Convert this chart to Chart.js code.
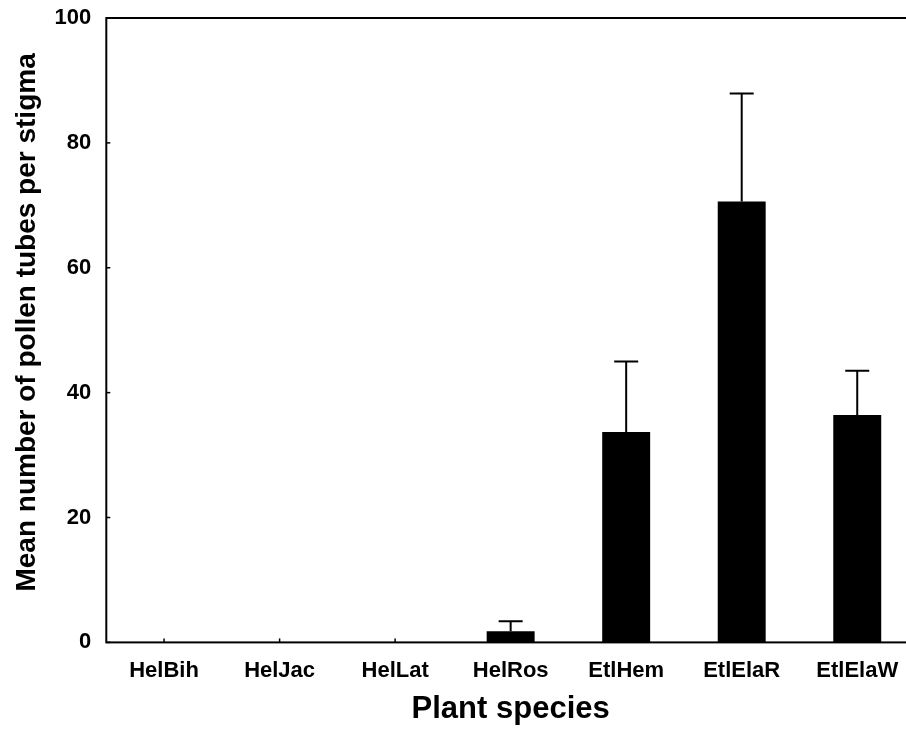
<!DOCTYPE html>
<html>
<head>
<meta charset="utf-8">
<script src="https://cdn.jsdelivr.net/npm/chart.js@4/dist/chart.umd.min.js"></script>
<style>
  html, body { margin: 0; padding: 0; background: #fff; overflow: hidden; }
  #wrap { width: 916px; height: 730px; }
</style>
</head>
<body>
<div id="wrap"><canvas id="pollen"></canvas></div>
<script>
var species = ['HelBih', 'HelJac', 'HelLat', 'HelRos', 'EtlHem', 'EtlElaR', 'EtlElaW'];
var meanTubes = [0, 0, 0, 1.8, 33.7, 70.6, 36.4];
var seTubes = [0, 0, 0, 1.6, 11.3, 17.3, 7.1];
var yTicks = [0, 20, 40, 60, 80, 100];

var FONT = "'Liberation Sans', Arial, sans-serif";

// upper error bars, inward ticks and the frame around the plot
var extras = {
  id: 'extras',
  afterDatasetsDraw: function(chart) {
    var ctx = chart.ctx;
    var x = chart.scales.x, y = chart.scales.y;
    var area = chart.chartArea;
    ctx.save();
    ctx.strokeStyle = '#000';
    ctx.lineWidth = 2;
    for (var i = 0; i < species.length; i++) {
      if (!seTubes[i]) continue;
      var px = x.getPixelForValue(i);
      var top = y.getPixelForValue(meanTubes[i] + seTubes[i]);
      ctx.beginPath();
      ctx.moveTo(px, y.getPixelForValue(meanTubes[i]));
      ctx.lineTo(px, top);
      ctx.moveTo(px - 12, top);
      ctx.lineTo(px + 12, top);
      ctx.stroke();
    }
    ctx.lineWidth = 1.5;
    yTicks.forEach(function(v) {
      var py = y.getPixelForValue(v);
      ctx.beginPath();
      ctx.moveTo(area.left, py);
      ctx.lineTo(area.left + 4, py);
      ctx.stroke();
    });
    species.forEach(function(s, i) {
      var px = x.getPixelForValue(i);
      ctx.beginPath();
      ctx.moveTo(px, area.bottom);
      ctx.lineTo(px, area.bottom - 4);
      ctx.stroke();
    });
    ctx.lineWidth = 2;
    ctx.strokeRect(area.left, area.top, area.right - area.left, area.bottom - area.top);
    ctx.restore();
  }
};

new Chart(document.getElementById('pollen'), {
  type: 'bar',
  data: {
    labels: species,
    datasets: [{
      data: meanTubes,
      backgroundColor: '#000',
      borderWidth: 0,
      categoryPercentage: 1,
      barPercentage: 0.415
    }]
  },
  options: {
    responsive: true,
    maintainAspectRatio: false,
    animation: false,
    layout: { padding: { top: 18, left: 6, right: 1, bottom: 2 } },
    plugins: {
      legend: { display: false },
      tooltip: { enabled: false }
    },
    scales: {
      x: {
        grid: { display: false, drawTicks: false },
        border: { display: false },
        ticks: { color: '#000', padding: 15, font: { family: FONT, size: 22, weight: 'bold' } },
        title: {
          display: true,
          text: 'Plant species',
          color: '#000',
          padding: { top: -8, bottom: 0 },
          font: { family: FONT, size: 31, weight: 'bold' }
        }
      },
      y: {
        min: 0,
        max: 100,
        afterBuildTicks: function(axis) {
          axis.ticks = yTicks.map(function(v) { return { value: v }; });
        },
        afterFit: function(axis) {
          // let the layout padding alone decide where the plot starts
          axis.paddingTop = 0;
          axis.paddingBottom = 0;
        },
        grid: { display: false, drawTicks: false },
        border: { display: false },
        ticks: { color: '#000', padding: 15, font: { family: FONT, size: 22, weight: 'bold' } },
        title: {
          display: true,
          text: '  Mean number of pollen tubes per stigma',
          color: '#000',
          padding: { top: 4, bottom: -4 },
          font: { family: FONT, size: 28, weight: 'bold' }
        }
      }
    }
  },
  plugins: [extras]
});
</script>
</body>
</html>
